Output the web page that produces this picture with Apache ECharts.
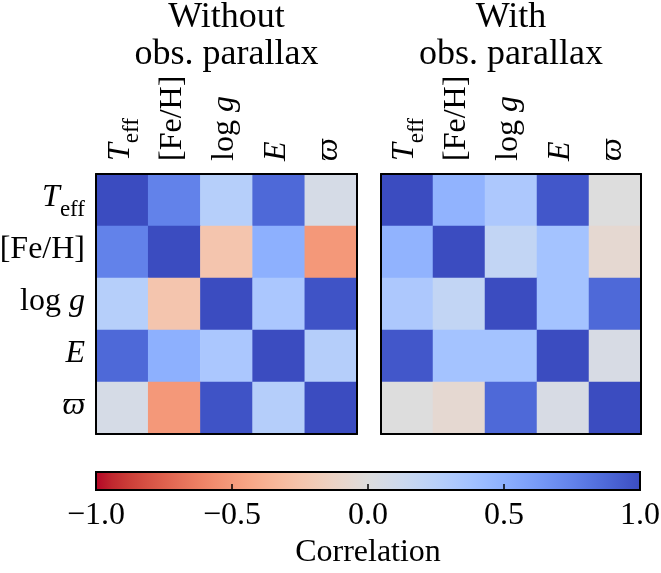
<!DOCTYPE html>
<html>
<head>
<meta charset="utf-8">
<script src="https://cdn.jsdelivr.net/npm/echarts@6/dist/echarts.min.js"></script>
<style>
  html, body { margin: 0; padding: 0; background: #fff; }
  #chart { width: 661px; height: 573px; }
</style>
</head>
<body>
<div id="chart"></div>
<script>
// Parameters of the fit, in matrix order
const params = ['Teff', '[Fe/H]', 'log g', 'E', 'varpi'];

// Correlation matrices (row-major, rows/cols follow params)
const corrWithout = [
  [1.00, 0.75, 0.26, 0.87, 0.06],
  [0.75, 1.00, -0.24, 0.50, -0.51],
  [0.26, -0.24, 1.00, 0.33, 0.97],
  [0.87, 0.50, 0.33, 1.00, 0.27],
  [0.06, -0.51, 0.97, 0.27, 1.00]
];
const corrWith = [
  [1.00, 0.48, 0.32, 0.95, 0.00],
  [0.48, 1.00, 0.19, 0.37, -0.06],
  [0.32, 0.19, 1.00, 0.37, 0.87],
  [0.95, 0.37, 0.37, 1.00, 0.05],
  [0.00, -0.06, 0.87, 0.05, 1.00]
];

const panelTitles = ['Without\nobs. parallax', 'With\nobs. parallax'];
const colorbarRange = [-1, 1];
const colorbarTicks = [-1.0, -0.5, 0.0, 0.5, 1.0];
const colorbarLabel = 'Correlation';

// coolwarm, from +1 (blue) down to -1 (red)
const coolwarm = [
  '#3b4cc0', '#445acc', '#4d68d7', '#5775e1', '#6282ea', '#6c8ef1', '#779af7', '#82a5fb',
  '#8db0fe', '#98b9ff', '#a3c2ff', '#aec9fd', '#b8d0f9', '#c2d5f4', '#ccd9ee', '#d5dbe6',
  '#dddddd', '#e5d8d1', '#ecd3c5', '#f1ccb8', '#f5c4ac', '#f7bb9f', '#f7b193', '#f7a686',
  '#f49a7b', '#f18d6f', '#ec7f63', '#e57059', '#de604d', '#d55043', '#cb3e38', '#c0282f',
  '#b40426'
];
const rampRedToBlue = coolwarm.slice().reverse();

const FONT = '"Liberation Serif", "DejaVu Serif", serif';

const richLabels = {
  'Teff': '{it|T}{sub|eff}',
  '[Fe/H]': '{rm|[Fe/H]}',
  'log g': '{rm|log }{it|g}',
  'E': '{it|E}',
  'varpi': '{it|\u03d6}'
};
const rich = {
  rm: { fontFamily: FONT, fontSize: 32, lineHeight: 36, verticalAlign: 'top', color: '#000' },
  it: { fontFamily: FONT, fontSize: 32, lineHeight: 36, fontStyle: 'italic', verticalAlign: 'top', color: '#000' },
  sub: { fontFamily: FONT, fontSize: 23, lineHeight: 23, padding: [16, 0, 0, 0], verticalAlign: 'top', color: '#000' }
};

function toCells(m) {
  const out = [];
  for (let r = 0; r < m.length; r++) {
    for (let c = 0; c < m[r].length; c++) out.push([c, r, m[r][c]]);
  }
  return out;
}

const panelGrids = [
  { left: 96, top: 174, width: 261, height: 260, outerBoundsMode: 'none' },
  { left: 381, top: 174, width: 260, height: 260, outerBoundsMode: 'none' }
];

const line = { lineStyle: { color: '#000', width: 2 } };
const tick = { inside: true, alignWithLabel: true, length: 6, lineStyle: { color: '#000', width: 1.5 } };
const xAxes = [], yAxes = [], series = [], titles = [];

panelGrids.forEach((g, i) => {
  titles.push({
    text: panelTitles[i],
    left: g.left + g.width / 2,
    top: -1,
    padding: 0,
    textAlign: 'center',
    textStyle: { fontFamily: FONT, fontSize: 36, fontWeight: 'normal', color: '#000', lineHeight: 37 }
  });
  xAxes.push({
    type: 'category', gridIndex: i, data: params, position: 'top', z: 10,
    axisLine: line, axisTick: tick,
    axisLabel: { rotate: -90, margin: 13, formatter: v => richLabels[v], rich: rich },
    splitLine: { show: false }
  });
  xAxes.push({
    type: 'category', gridIndex: i, data: params, position: 'bottom', z: 10,
    axisLine: line, axisTick: tick,
    axisLabel: { show: false },
    splitLine: { show: false }
  });
  yAxes.push({
    type: 'category', gridIndex: i, data: params, inverse: true, position: 'left', z: 10,
    axisLine: line, axisTick: tick,
    axisLabel: { show: i === 0, margin: 11, formatter: v => richLabels[v], rich: rich },
    splitLine: { show: false }
  });
  yAxes.push({
    type: 'category', gridIndex: i, data: params, inverse: true, position: 'right', z: 10,
    axisLine: line,
    axisTick: { show: false },
    axisLabel: { show: false },
    splitLine: { show: false }
  });
  series.push({
    type: 'heatmap',
    xAxisIndex: i * 2,
    yAxisIndex: i * 2,
    data: toCells(i === 0 ? corrWithout : corrWith),
    itemStyle: { borderWidth: 0 },
    emphasis: { disabled: true },
    silent: true
  });
});

// Colorbar panel
const cbGrid = { left: 96, top: 472, width: 544, height: 18, outerBoundsMode: 'none' };
xAxes.push({
  type: 'value', gridIndex: 2, min: colorbarRange[0], max: colorbarRange[1], interval: 0.5,
  position: 'bottom', z: 10,
  axisLine: { show: false },
  axisTick: { inside: true, length: 6, lineStyle: { color: '#000', width: 1.5 } },
  axisLabel: {
    margin: 10, fontFamily: FONT, fontSize: 32, color: '#000',
    formatter: v => (colorbarTicks.indexOf(v) >= 0 ? v.toFixed(1).replace('-', '\u2212') : '')
  },
  splitLine: { show: false },
  name: colorbarLabel, nameLocation: 'middle', nameGap: 47,
  nameTextStyle: { fontFamily: FONT, fontSize: 32, color: '#000' }
});
yAxes.push({ type: 'value', gridIndex: 2, min: 0, max: 1, show: false });

const gradientStops = rampRedToBlue.map((c, k) => ({ offset: k / (rampRedToBlue.length - 1), color: c }));
series.push({
  type: 'custom',
  xAxisIndex: 4,
  yAxisIndex: 4,
  silent: true,
  z: 1,
  data: [[colorbarRange[0], colorbarRange[1]]],
  renderItem: (params, api) => {
    const p0 = api.coord([api.value(0), 1]);
    const p1 = api.coord([api.value(1), 0]);
    return {
      type: 'rect',
      shape: { x: p0[0], y: p0[1], width: p1[0] - p0[0], height: p1[1] - p0[1] },
      style: {
        fill: new echarts.graphic.LinearGradient(0, 0, 1, 0, gradientStops),
        stroke: '#000', lineWidth: 2
      }
    };
  }
});

const chart = echarts.init(document.getElementById('chart'), null, { renderer: 'canvas' });
chart.setOption({
  backgroundColor: '#fff',
  animation: false,
  title: titles,
  grid: [...panelGrids, cbGrid],
  xAxis: xAxes,
  yAxis: yAxes,
  visualMap: {
    type: 'continuous', show: false, min: -1, max: 1, seriesIndex: [0, 1],
    inRange: { color: rampRedToBlue }
  },
  series: series
});
</script>
</body>
</html>
